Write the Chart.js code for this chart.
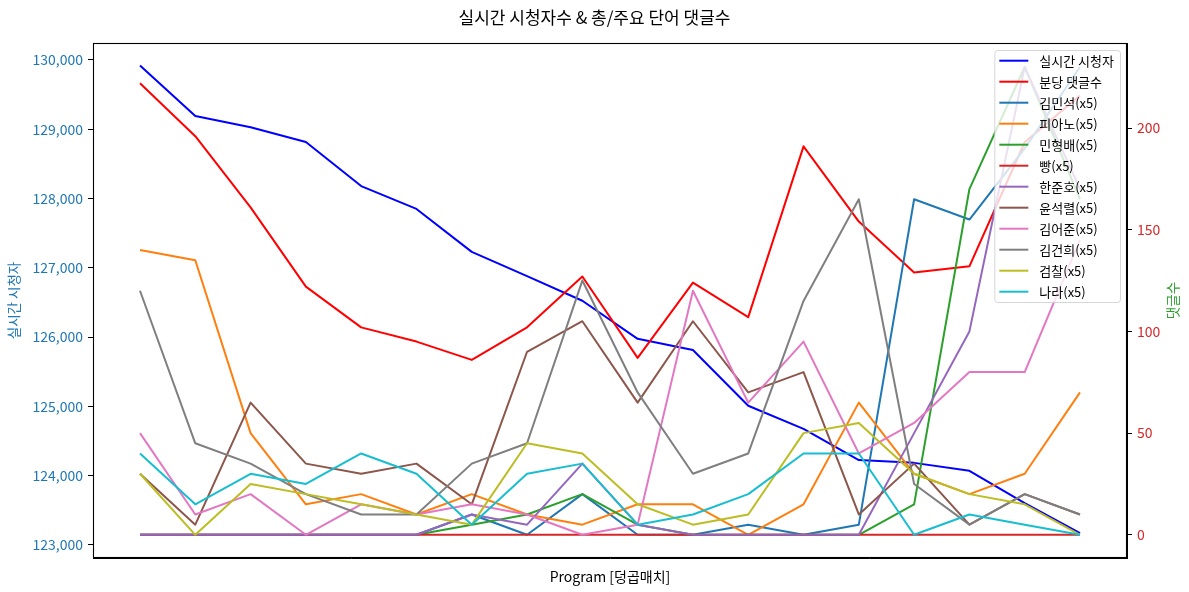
<!DOCTYPE html>
<html>
<head>
<meta charset="utf-8">
<script src="https://cdn.jsdelivr.net/npm/chart.js@4/dist/chart.umd.min.js"></script>
<style>
html,body{margin:0;padding:0;background:#fff;}
#wrap{width:1189px;height:592px;}
</style>
</head>
<body>
<div id="wrap"><canvas id="c" width="1189" height="592"></canvas></div>
<script>
const FONT = "'Noto Sans CJK KR', 'Noto Sans', sans-serif";

// ---- data ----
const timeIndex = [0,1,2,3,4,5,6,7,8,9,10,11,12,13,14,15,16,17];
const viewers = [129920,129190,129030,128815,128180,127850,127230,126880,126525,125975,125815,125010,124675,124225,124185,124070,123605,123170];
const commentsPerMin = [222,196,161,122,102,95,86,102,127,87,124,107,191,154,129,132,193,216];

const kimMinSeok = [0,0,0,0,0,0,10,0,20,0,0,5,0,5,165,155,190,230];
const piano = [140,135,50,15,20,10,20,10,5,15,15,0,15,65,30,20,30,70];
const minHyungBae = [0,0,0,0,0,0,5,10,20,5,0,0,0,0,15,170,230,165];
const bbang = [0,0,0,0,0,0,0,0,0,0,0,0,0,0,0,0,0,0];
const hanJunHo = [0,0,0,0,0,0,10,5,35,5,0,0,0,0,50,100,230,170];
const yoonSeokYeol = [30,5,65,35,30,35,15,90,105,65,105,70,80,10,35,5,20,10];
const kimEoJun = [50,10,20,0,15,10,15,10,0,5,120,65,95,40,55,80,80,145];
const kimGunHee = [120,45,35,20,10,10,35,45,125,70,30,40,115,165,25,5,20,10];
const prosecution = [30,0,25,20,15,10,5,45,40,15,5,10,50,55,30,20,15,0];
const nara = [40,15,30,25,40,30,5,30,35,5,10,20,40,40,0,10,5,0];

const wordLabels = ['김민석(x5)','피아노(x5)','민형배(x5)','빵(x5)','한준호(x5)','윤석렬(x5)','김어준(x5)','김건희(x5)','검찰(x5)','나라(x5)'];
const wordSeries = [kimMinSeok, piano, minHyungBae, bbang, hanJunHo, yoonSeokYeol, kimEoJun, kimGunHee, prosecution, nara];

const leftTicks = [123000,124000,125000,126000,127000,128000,129000,130000];
const rightTicks = [0,50,100,150,200];

const leftAxisLabel = '실시간 시청자';
const rightAxisLabel = '댓글수';
const xLabel = 'Program [덩곱매치]';
const chartTitle = '실시간 시청자수 & 총/주요 단어 댓글수';

// ---- styles ----
const wordColors = ['#1f77b4','#ff7f0e','#2ca02c','#d62728','#9467bd','#8c564b','#e377c2','#7f7f7f','#bcbd22','#17becf'];

const toPts = arr => timeIndex.map((x, i) => ({x: x, y: arr[i]}));

const datasets = [
  {label: '실시간 시청자', data: toPts(viewers), borderColor: '#0000ff', yAxisID: 'y', order: 20},
  {label: '분당 댓글수', data: toPts(commentsPerMin), borderColor: '#ff0000', yAxisID: 'y2', order: 19}
];
wordLabels.forEach((lab, i) => {
  datasets.push({label: lab, data: toPts(wordSeries[i]), borderColor: wordColors[i], yAxisID: 'y2', order: 18 - i});
});
datasets.forEach(d => {
  d.borderWidth = 2;
  d.pointRadius = 0;
  d.pointHoverRadius = 0;
  d.fill = false;
  d.tension = 0;
  d.borderJoinStyle = 'round';
  d.backgroundColor = d.borderColor;
});

const framePlugin = {
  id: 'frame',
  afterDatasetsDraw(chart) {
    const {ctx, chartArea: ca} = chart;
    ctx.save();
    ctx.strokeStyle = '#000';
    ctx.lineWidth = 1.1;
    ctx.strokeRect(Math.round(ca.left) + 0.5, Math.round(ca.top) + 0.5, Math.round(ca.right - ca.left) - 1, Math.round(ca.bottom - ca.top) - 1);
    ctx.restore();
  }
};

const legendPlugin = {
  id: 'mplLegend',
  afterDraw(chart) {
    const {ctx, chartArea: ca} = chart;
    ctx.save();
    ctx.font = '13px ' + FONT;
    const items = chart.data.datasets.map(d => ({label: d.label, color: d.borderColor}));
    const maxW = Math.max(...items.map(it => ctx.measureText(it.label).width));
    const right = ca.right - 7;
    const top = ca.top + 7;
    const rowH = 21;
    const textX = right - 6 - maxW;
    const hEnd = textX - 11;
    const hStart = hEnd - 29;
    const left = hStart - 5;
    const height = 10.7 + (items.length - 1) * rowH + 10.3;
    ctx.beginPath();
    if (ctx.roundRect) ctx.roundRect(left + 0.5, top + 0.5, right - left, height, 3);
    else ctx.rect(left + 0.5, top + 0.5, right - left, height);
    ctx.fillStyle = 'rgba(255,255,255,0.8)';
    ctx.fill();
    ctx.strokeStyle = 'rgba(204,204,204,0.8)';
    ctx.lineWidth = 1;
    ctx.stroke();
    items.forEach((it, i) => {
      const y = top + 10.7 + i * rowH;
      ctx.beginPath();
      ctx.strokeStyle = it.color;
      ctx.lineWidth = 2;
      ctx.moveTo(hStart, y);
      ctx.lineTo(hEnd, y);
      ctx.stroke();
      ctx.fillStyle = '#000';
      ctx.textAlign = 'left';
      ctx.textBaseline = 'middle';
      ctx.fillText(it.label, textX, y + 0.5);
    });
    // right axis title (rotated like matplotlib, reading bottom-to-top)
    ctx.save();
    ctx.translate(1172.5, (ca.top + ca.bottom) / 2);
    ctx.rotate(-Math.PI / 2);
    ctx.fillStyle = '#2ca02c';
    ctx.textAlign = 'center';
    ctx.textBaseline = 'middle';
    ctx.font = '13.5px ' + FONT;
    ctx.fillText(rightAxisLabel, 0, 0);
    ctx.restore();
    ctx.restore();
  }
};

new Chart(document.getElementById('c'), {
  type: 'line',
  data: {datasets: datasets},
  options: {
    responsive: false,
    animation: false,
    devicePixelRatio: 1,
    layout: {padding: 0},
    plugins: {
      legend: {display: false},
      tooltip: {enabled: false},
      title: {
        display: true,
        text: chartTitle,
        color: '#000',
        font: {family: FONT, size: 17, weight: 'normal'},
        padding: {top: 7.3, bottom: 15.3}
      }
    },
    scales: {
      x: {
        type: 'linear',
        min: -0.85,
        max: 17.85,
        ticks: {display: false},
        grid: {display: false, drawTicks: false},
        border: {display: true, color: '#000'},
        title: {display: true, text: xLabel, color: '#000', font: {family: FONT, size: 14}, padding: {top: 0, bottom: 7}},
        afterFit(s) { s.height = 34; }
      },
      y: {
        position: 'left',
        min: 122812,
        max: 130245,
        afterBuildTicks(s) { s.ticks = leftTicks.map(v => ({value: v})); },
        ticks: {
          color: '#1f77b4',
          padding: 5,
          font: {family: FONT, size: 14},
          callback: v => Number(v).toLocaleString('en-US')
        },
        grid: {drawOnChartArea: false, drawTicks: true, tickLength: 5, tickColor: '#000', tickWidth: 1},
        border: {display: true, color: '#000'},
        title: {display: true, text: leftAxisLabel, color: '#1f77b4', font: {family: FONT, size: 13.5}, padding: {top: 6, bottom: 0}},
        afterFit(s) { s.width = 93; }
      },
      y2: {
        position: 'right',
        min: -11.4,
        max: 241.8,
        afterBuildTicks(s) { s.ticks = rightTicks.map(v => ({value: v})); },
        ticks: {
          color: '#d62728',
          padding: 5,
          font: {family: FONT, size: 14}
        },
        grid: {drawOnChartArea: false, drawTicks: true, tickLength: 5, tickColor: '#000', tickWidth: 1},
        border: {display: true, color: '#000'},
        afterFit(s) { s.width = 62; }
      }
    }
  },
  plugins: [framePlugin, legendPlugin]
});
</script>
</body>
</html>
